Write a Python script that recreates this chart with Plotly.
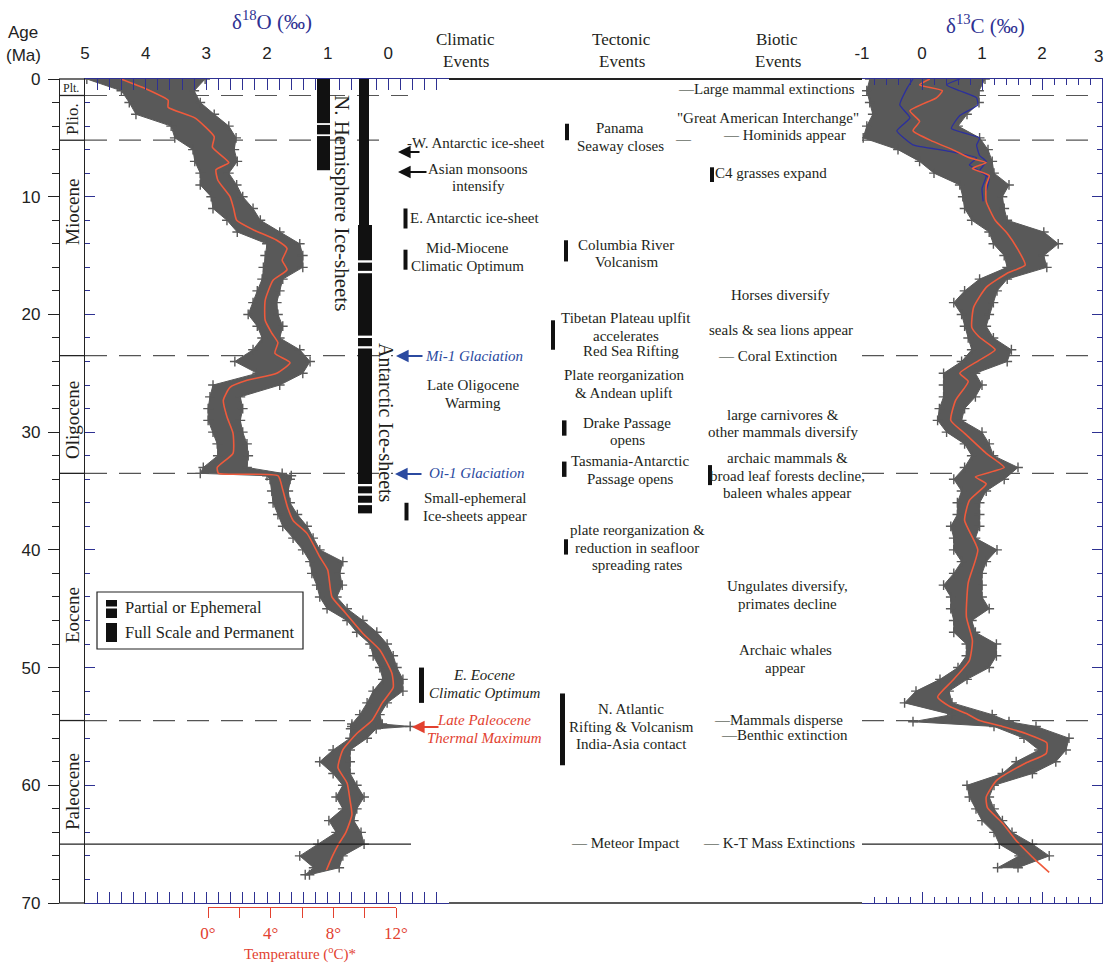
import plotly.graph_objects as go

W, H = 1105, 964
SERIF = "Liberation Serif, Times New Roman, serif"
SANS = "Liberation Sans, Arial, sans-serif"
AXBLUE = "#2e3192"
TBLUE = "#2b4aa0"
RED = "#e2412f"
CURVE = "#ef5a3c"
GRAY = "#595959"
INK = "#231f20"

# ---------------- data ----------------
# benthic d18O cloud: age (Ma), heavy edge, light edge (per mil)
o18_cloud_age = [0,1,2,3,4,5,6,7,8,9,10,11,12,13,14,15,16,17,18,19,20,21,22,23,24,25,26,27,28,29,30,31,32,33,
                 33.5,33.7,34,35,36,37,38,39,40,41,42,43,44,45,46,47,48,49,50,51,52,53,54,54.8,55.0,55.2,
                 56,57,58,59,60,61,62,63,64,65,66,67,67.6]
o18_cloud_hi = [4.97,4.4,4.27,4.16,3.58,3.52,3.22,3.19,3.1,3.1,2.92,2.89,2.66,2.49,2.0,2.03,2.06,2.08,2.16,2.23,
                2.31,2.16,2.08,2.23,2.53,2.16,2.89,2.94,2.97,2.97,2.89,2.82,2.81,3.05,3.1,2.0,1.95,1.92,1.9,1.82,
                1.74,1.57,1.41,1.29,1.26,1.18,1.13,1.01,0.68,0.52,0.3,0.25,0.14,0.09,0.25,0.35,0.47,0.6,0.6,0.62,
                0.63,0.91,1.13,0.91,0.75,0.86,0.75,0.98,0.86,1.16,1.46,1.23,1.37]
o18_cloud_lo = [3.02,3.2,3.1,2.87,2.63,2.51,2.54,2.49,2.63,2.5,2.4,2.23,2.11,1.79,1.46,1.41,1.41,1.74,1.79,1.84,
                1.82,1.74,1.79,1.46,1.29,1.41,1.79,2.44,2.4,2.44,2.4,2.33,2.31,2.33,1.75,1.6,1.62,1.65,1.62,1.5,
                1.34,1.24,1.13,0.75,0.8,0.76,0.85,0.68,0.42,0.19,0.02,-0.08,-0.14,-0.24,-0.24,0.02,0.14,0.1,-0.36,0.2,
                0.35,0.63,0.63,0.63,0.52,0.4,0.52,0.57,0.45,0.4,0.75,0.81,1.3]
o18_fit_age = [0,0.8,1.8,2.4,3.3,4.9,5.8,7.1,7.7,8.6,10.0,11.0,12.0,12.8,13.7,14.4,15.4,16.2,17.1,18.8,20.5,21.6,
               22.4,23.3,24.1,25.0,25.6,26.2,27.3,28.7,30.1,31.8,33.0,33.5,33.7,34.9,36.4,37.5,38.6,40.6,41.7,44.0,
               45.1,47.1,48.5,50.5,51.7,53.0,54.5,55.6,57.0,58.5,59.8,61.3,62.5,64.0,65.0,66.0,67.2]
o18_fit = [4.41,4.01,3.63,3.63,3.19,2.87,2.9,2.63,2.84,2.81,2.61,2.55,2.5,2.23,1.84,1.67,1.75,1.67,1.9,2.03,2.03,1.92,
           1.82,1.87,1.62,1.84,2.33,2.61,2.72,2.66,2.56,2.56,2.82,2.8,1.82,1.74,1.66,1.57,1.34,1.13,1.0,0.93,
           0.75,0.42,0.14,-0.06,-0.08,0.1,0.27,0.52,0.75,0.83,0.68,0.63,0.6,0.7,0.82,0.92,1.02]

# benthic d13C cloud: age (Ma), low edge, high edge (per mil)
c13_cloud_age = [0,1,2,3,4,5,6,7,8,9,10,11,12,13,14,15,16,17,18,19,20,21,22,23,24,25,26,27,28,29,30,31,32,33,34,
                 35,36,37,38,39,40,41,42,43,44,45,46,47,48,49,50,51,52,53,54,54.6,55,56,57,58,59,60,61,62,63,64,65,66,67]
c13_cloud_lo = [-0.87,-0.92,-0.87,-0.82,-0.92,-0.98,-0.4,-0.04,0.2,0.63,0.68,0.71,0.83,1.12,1.19,1.37,1.42,0.96,0.71,0.53,
                0.66,0.71,0.77,0.83,0.66,0.36,0.36,0.36,0.29,0.26,0.41,0.71,0.83,0.71,0.53,0.66,0.59,0.59,0.48,0.53,
                0.53,0.66,0.53,0.36,0.48,0.48,0.53,0.53,0.74,0.74,0.6,0.3,-0.1,-0.29,0.5,-0.15,1.2,1.7,1.95,1.57,
                1.34,0.75,0.79,0.9,1.0,1.2,1.29,1.62,1.26]
c13_cloud_hi = [1.05,0.95,0.95,0.75,0.6,0.96,1.1,1.17,1.2,1.45,1.34,1.37,1.42,2.03,2.27,2.03,2.08,1.42,1.25,1.19,
                1.12,1.07,1.19,1.49,1.42,0.89,1.0,0.89,0.71,0.66,1.0,1.12,1.19,1.6,1.37,1.07,0.96,0.96,0.96,0.89,
                1.25,1.07,1.0,1.0,1.0,1.12,0.83,0.89,1.24,1.24,1.12,0.75,0.45,0.5,1.17,1.45,1.9,2.45,2.4,2.23,
                1.84,1.2,1.12,1.2,1.34,1.5,1.84,2.12,1.6]
c13_fit_age = [0,0.5,1.0,1.6,2.7,3.6,4.4,5.3,6.0,6.7,7.1,7.6,8.2,9.0,10.4,12.0,13.1,14.5,15.8,16.5,17.7,19.4,21.1,
               21.9,23.0,23.9,25.0,25.7,27.3,29.0,30.1,31.8,33.0,33.8,34.4,35.8,37.5,40.0,42.8,45.7,47.7,49.4,51.1,
               52.5,53.3,53.9,54.5,55.0,55.6,56.4,57.3,58.1,59.6,61.0,61.9,63.2,64.7,66.1,67.4]
c13_fit = [0.13,-0.04,0.34,0.24,-0.2,-0.04,-0.15,0.18,0.51,0.79,1.07,0.84,1.12,1.07,1.07,1.22,1.42,1.6,1.72,1.42,
           1.07,0.86,0.83,0.95,1.22,0.95,0.63,0.77,0.56,0.48,0.71,1.07,1.37,0.89,1.07,0.79,0.71,0.93,0.77,0.74,
           0.84,0.79,0.51,0.26,0.46,0.74,0.96,1.34,1.73,2.08,2.07,1.73,1.24,1.07,1.09,1.34,1.57,1.84,2.12]
c13_blue1_age = [0,0.8,2.2,3.3,4.4,5.6,6.1,6.7,7.3,8.2,9.3,10.4]
c13_blue1 = [-0.15,-0.25,-0.37,-0.2,-0.42,-0.15,0.41,0.91,0.79,1.07,1.0,1.02]
c13_blue2_age = [0,0.5,1.0,1.6,2.2,3.1,4.2,5.0,5.6,6.5,7.0,7.8,8.4,9.5]
c13_blue2 = [0.63,0.41,0.63,0.91,0.93,0.63,0.49,0.96,0.91,0.96,1.07,0.96,1.12,1.07]

age_ticks = [0, 10, 20, 30, 40, 50, 60, 70]
age_minor = [a for a in range(0, 71, 2) if a % 10]
o18_ticks = [5, 4, 3, 2, 1, 0, -1]
o18_labels = ["5", "4", "3", "2", "1", "0", ""]
o18_minor = [round(5 - 0.2 * i, 1) for i in range(31) if i % 5]
c13_ticks = [-1, 0, 1, 2, 3]
c13_labels = ["-1", "0", "1", "2", ""]   # the "3" sits on the page edge, drawn separately
c13_edge_label = "3"
c13_minor = [round(-1 + 0.2 * i, 1) for i in range(21) if i % 5]
temp_ticks = [0, 2, 4, 6, 8, 10, 12]
temp_labels = ["0°", "", "4°", "", "8°", "", "12°"]

epoch_bounds = [1.4, 5.2, 23.5, 33.5, 54.5]
kt_boundary = 65.0
nh_ice = [(0, 3.75), (3.9, 4.7), (4.85, 7.75)]
ant_ice_upper = [(0, 12.4)]
ant_ice = [(12.4, 15.4), (15.6, 16.3), (16.5, 21.8), (22.0, 22.7), (22.9, 34.4), (34.6, 35.2), (35.4, 36.0), (36.2, 36.9)]
event_bar_ages = [(11.0, 12.7), (14.5, 16.2), (36.0, 37.5), (50.0, 53.0),
                  (3.8, 5.2), (13.7, 15.5), (20.5, 23.0), (29.0, 30.3), (32.5, 33.8), (39.1, 40.4), (52.2, 58.3),
                  (7.5, 8.75), (32.8, 34.5)]

# ---------------- helpers ----------------
def px(x):
    return x / W

def py(y):
    return 1 - y / H

fig = go.Figure()

def band(ages, lo, hi, xa, ya):
    xs = list(hi) + list(lo)[::-1]
    ys = list(ages) + list(ages)[::-1]
    fig.add_trace(go.Scatter(x=xs, y=ys, xaxis=xa, yaxis=ya, mode="lines", fill="toself",
                             fillcolor=GRAY, line=dict(width=1, color=GRAY),
                             hoverinfo="skip", showlegend=False))
    fig.add_trace(go.Scatter(x=list(lo) + list(hi), y=list(ages) * 2, xaxis=xa, yaxis=ya, mode="markers",
                             marker=dict(symbol="cross-thin", size=7, line=dict(width=1.4, color=GRAY)),
                             hoverinfo="skip", showlegend=False))

band(o18_cloud_age, o18_cloud_lo, o18_cloud_hi, "x", "y")
fig.add_trace(go.Scatter(x=o18_fit, y=o18_fit_age, xaxis="x", yaxis="y", mode="lines",
                         line=dict(color=CURVE, width=1.6, shape="spline", smoothing=0.5),
                         hoverinfo="skip", showlegend=False))
band(c13_cloud_age, c13_cloud_lo, c13_cloud_hi, "x2", "y2")
for ag, vals in ((c13_blue1_age, c13_blue1), (c13_blue2_age, c13_blue2)):
    fig.add_trace(go.Scatter(x=vals, y=ag, xaxis="x2", yaxis="y2", mode="lines",
                             line=dict(color="#2b2f9e", width=1.3, shape="spline", smoothing=0.4),
                             hoverinfo="skip", showlegend=False))
fig.add_trace(go.Scatter(x=c13_fit, y=c13_fit_age, xaxis="x2", yaxis="y2", mode="lines",
                         line=dict(color=CURVE, width=1.6, shape="spline", smoothing=0.5),
                         hoverinfo="skip", showlegend=False))
# dummy traces so that the extra axes are drawn
fig.add_trace(go.Scatter(x=[None], y=[None], xaxis="x", yaxis="y3", showlegend=False, hoverinfo="skip"))
fig.add_trace(go.Scatter(x=[None], y=[None], xaxis="x3", yaxis="y", showlegend=False, hoverinfo="skip"))

ydom = [py(903), py(79)]
tickfont = dict(family=SANS, size=17, color="#222")
common = dict(showgrid=False, zeroline=False, fixedrange=True, automargin=False)

fig.update_layout(
    width=W, height=H, margin=dict(l=0, r=0, t=0, b=0, pad=0, autoexpand=False),
    paper_bgcolor="white", plot_bgcolor="rgba(0,0,0,0)", showlegend=False,
    xaxis=dict(domain=[px(85), px(449)], range=[5, -1], side="top", anchor="y",
               showline=True, linecolor=AXBLUE, linewidth=1, mirror="allticks",
               ticks="inside", ticklen=11, tickwidth=1, tickcolor=AXBLUE,
               tickmode="array", tickvals=o18_ticks, ticktext=o18_labels, tickfont=tickfont,
               ticklabelstandoff=12,
               minor=dict(tickmode="array", tickvals=o18_minor, ticks="inside", ticklen=6,
                          tickcolor=AXBLUE, tickwidth=1), **common),
    yaxis=dict(domain=ydom, range=[70, 0], anchor="x", side="left",
               showline=True, linecolor="#222", linewidth=1.2,
               ticks="inside", ticklen=10, tickcolor=AXBLUE, tickwidth=1,
               tickmode="array", tickvals=age_ticks, showticklabels=False,
               minor=dict(tickmode="array", tickvals=age_minor, ticks="inside", ticklen=5,
                          tickcolor=AXBLUE, tickwidth=1), **common),
    yaxis3=dict(domain=ydom, range=[70, 0], anchor="free", position=px(59), side="left",
                showline=True, linecolor="#222", linewidth=1.2,
                ticks="outside", ticklen=11, tickcolor="#222", tickwidth=1,
                tickmode="array", tickvals=age_ticks, ticktext=[str(a) for a in age_ticks],
                tickfont=tickfont, ticklabelstandoff=4, ticklabeloverflow="allow",
                minor=dict(tickmode="array", tickvals=age_minor, ticks="outside", ticklen=7,
                           tickcolor="#222", tickwidth=1), **common),
    xaxis2=dict(domain=[px(862), px(1102)], range=[-1, 3], side="top", anchor="y2",
                showline=True, linecolor=AXBLUE, linewidth=1, mirror="allticks",
                ticks="inside", ticklen=11, tickwidth=1, tickcolor=AXBLUE,
                tickmode="array", tickvals=c13_ticks, ticktext=c13_labels, tickfont=tickfont,
                ticklabelstandoff=12, ticklabeloverflow="allow",
                minor=dict(tickmode="array", tickvals=c13_minor, ticks="inside", ticklen=6,
                           tickcolor=AXBLUE, tickwidth=1), **common),
    yaxis2=dict(domain=ydom, range=[70, 0], anchor="x2", side="right",
                showline=True, linecolor=AXBLUE, linewidth=1.2,
                ticks="inside", ticklen=10, tickcolor=AXBLUE, tickwidth=1,
                tickmode="array", tickvals=age_ticks, showticklabels=False,
                minor=dict(tickmode="array", tickvals=age_minor, ticks="inside", ticklen=5,
                           tickcolor=AXBLUE, tickwidth=1), **common),
    xaxis3=dict(domain=[px(208), px(396)], range=[0, 12], anchor="free", position=py(907), side="bottom",
                showline=True, linecolor=RED, linewidth=1.3,
                ticks="outside", ticklen=10, tickcolor=RED, tickwidth=1.3,
                tickmode="array", tickvals=temp_ticks, ticktext=temp_labels,
                tickfont=dict(family=SERIF, size=17, color=RED), ticklabelstandoff=0, **common),
)

shapes = []

def hline(x0, x1, age, color="#222", width=1.3, dash="solid", layer="above"):
    shapes.append(dict(type="line", xref="paper", yref="y", x0=px(x0), x1=px(x1), y0=age, y1=age,
                       line=dict(color=color, width=width, dash=dash), layer=layer))

def pline(x0, y0, x1, y1, color="#222", width=1.3):
    shapes.append(dict(type="line", xref="paper", yref="paper", x0=px(x0), x1=px(x1), y0=py(y0), y1=py(y1),
                       line=dict(color=color, width=width)))

def bar(x0, x1, a0, a1, color="#111"):
    shapes.append(dict(type="rect", xref="paper", yref="y", x0=px(x0), x1=px(x1), y0=a0, y1=a1,
                       fillcolor=color, line=dict(width=0)))

# frame pieces outside the data panels
pline(59, 79, 85, 79)
pline(449, 79, 862, 79, width=2)
pline(59, 903, 85, 903)
pline(449, 903, 862, 903, width=1.5)

# epoch boundaries
left_dash_end = [408, 380, 393, 393, 355]
for a, xe in zip(epoch_bounds, left_dash_end):
    hline(59, 85, a)
    hline(85, xe, a, color="#555", width=1.2, dash="22px,12px", layer="below")
    hline(862, 1100, a, color="#555", width=1.2, dash="22px,12px", layer="below")
hline(59, 411, kt_boundary, width=1.3)
hline(862, 1102, kt_boundary, width=1.3)

# ice sheet bars
for a0, a1 in nh_ice:
    bar(317, 330, a0, a1)
for a0, a1 in ant_ice_upper:
    bar(359, 369, a0, a1)
for a0, a1 in ant_ice:
    bar(358, 372, a0, a1)

# event bars
bar_x = [(403.5, 407.5), (403.5, 407.5), (404.5, 408.5), (419, 424),
         (565, 569), (564, 568), (551, 555), (562, 566.5), (562, 566.5), (564, 568), (560, 565),
         (710, 714), (708, 712)]
for (x0, x1), (a0, a1) in zip(bar_x, event_bar_ages):
    bar(x0, x1, a0, a1)

# legend box
shapes.append(dict(type="rect", xref="paper", yref="paper", x0=px(97), x1=px(303), y0=py(649), y1=py(592),
                   line=dict(color="#222", width=1.2), fillcolor="white"))
for y0, y1 in ((600, 606.5), (608.5, 618), (623, 642)):
    shapes.append(dict(type="rect", xref="paper", yref="paper", x0=px(106), x1=px(117), y0=py(y1), y1=py(y0),
                       fillcolor="#111", line=dict(width=0)))

ann = []

def txt(s, x, y, size=15, color=INK, family=SERIF, angle=0, xanchor="center"):
    ann.append(dict(text=s, x=px(x), y=py(y), xref="paper", yref="paper", showarrow=False,
                    font=dict(family=family, size=size, color=color), textangle=angle,
                    xanchor=xanchor, yanchor="middle"))

def arrow(xtip, xtail, y, color):
    ann.append(dict(text="", x=px(xtip), y=py(y), xref="paper", yref="paper", showarrow=True,
                    ax=xtail - xtip, ay=0, arrowhead=2, arrowsize=1.4, arrowwidth=1.8, arrowcolor=color))

# headings
txt("Age", 23, 33, size=17, family=SANS, color="#222")
txt("(Ma)", 23, 55, size=17, family=SANS, color="#222")
txt(c13_edge_label, 1105, 56, size=17, family=SANS, color="#222", xanchor="right")
txt("δ<sup>18</sup>O (‰)", 272, 20, size=21, color=AXBLUE)
txt("δ<sup>13</sup>C (‰)", 985, 24, size=21, color=AXBLUE)
for x, word in ((465, "Climatic"), (621, "Tectonic"), (777, "Biotic")):
    txt(word, x, 40, size=17)
    txt("Events", x + 1, 61, size=17)

# epochs
txt("Plt.", 71, 88, size=12)
txt("Plio.", 72, 119, size=17, angle=-90)
txt("Miocene", 72, 212, size=19, angle=-90)
txt("Oligocene", 72, 420, size=19, angle=-90)
txt("Eocene", 72, 615, size=19, angle=-90)
txt("Paleocene", 72, 792, size=19, angle=-90)

# ice-sheet labels
txt("N. Hemisphere Ice-sheets", 342, 203, size=21, angle=90)
txt("Antarctic Ice-sheets", 386, 423, size=20, angle=90)

# legend text
txt("Partial or Ephemeral", 123, 607, size=16.5, xanchor="left")
txt("Full Scale and Permanent", 123, 632, size=16.5, xanchor="left")

# temperature title
txt("Temperature (<sup>o</sup>C)*", 300, 953, size=15, color=RED)

# climatic events
climatic = [
    (["-W. Antarctic ice-sheet"], 476, 143, INK, False),
    (["Asian monsoons", "intensify"], 478, 169, INK, False),
    (["E. Antarctic ice-sheet"], 475, 218, INK, False),
    (["Mid-Miocene", "Climatic Optimum"], 467, 248, INK, False),
    (["Mi-1 Glaciation"], 474, 356, TBLUE, True),
    (["Late Oligocene", "Warming"], 473, 385, INK, False),
    (["Oi-1 Glaciation"], 476, 473, TBLUE, True),
    (["Small-ephemeral", "Ice-sheets appear"], 475, 498, INK, False),
    (["E. Eocene", "Climatic Optimum"], 484, 675, INK, True),
    (["Late Paleocene", "Thermal Maximum"], 484, 720, RED, True),
]
tectonic = [
    (["Panama", "Seaway closes"], 620, 128),
    (["Columbia River", "Volcanism"], 626, 245),
    (["Tibetan Plateau uplfit", "accelerates"], 626, 318),
    (["Red Sea Rifting"], 631, 351),
    (["Plate reorganization", "& Andean uplift"], 624, 375),
    (["Drake Passage", "opens"], 627, 423),
    (["Tasmania-Antarctic", "Passage opens"], 630, 461),
    (["plate reorganization &", "reduction in seafloor", "spreading rates"], 637, 530),
    (["N. Atlantic", "Rifting & Volcanism", "India-Asia contact"], 631, 709),
    (["— Meteor Impact"], 625, 843),
]
biotic = [
    (["—Large mammal extinctions"], 766, 89),
    (["\"Great American Interchange\""], 768, 118),
    (["— Hominids appear"], 784, 135),
    (["C4 grasses expand"], 771, 173),
    (["Horses diversify"], 780, 295),
    (["seals & sea lions appear"], 781, 330),
    (["— Coral Extinction"], 778, 356),
    (["large carnivores &", "other mammals diversify"], 783, 415),
    (["archaic mammals &", "broad leaf forests decline,", "baleen whales appear"], 787, 458),
    (["Ungulates diversify,", "primates decline"], 787, 586),
    (["Archaic whales", "appear"], 785, 650),
    (["—Mammals disperse"], 778, 720),
    (["—Benthic extinction"], 784, 735),
    (["— K-T Mass Extinctions"], 779, 843),
]
LS = 17.5
for lines, x, y, col, ital in climatic:
    for i, s in enumerate(lines):
        t = "<i>%s</i>" % s if ital else s
        txt(t, x, y + i * LS, size=15, color=col)
for lines, x, y in tectonic + biotic:
    for i, s in enumerate(lines):
        txt(s, x, y + i * LS, size=15)
txt("—", 683, 139, size=15)

# arrows
arrow(398, 421, 152, "#111")
arrow(398, 428, 172, "#111")
arrow(396, 424, 356, TBLUE)
arrow(395, 423, 474, TBLUE)
arrow(412, 440, 727, RED)

fig.update_layout(shapes=shapes, annotations=ann)

fig.write_html("out.html", config={"displayModeBar": False},
               post_script="document.body.style.margin='0';document.body.style.overflow='hidden';")
